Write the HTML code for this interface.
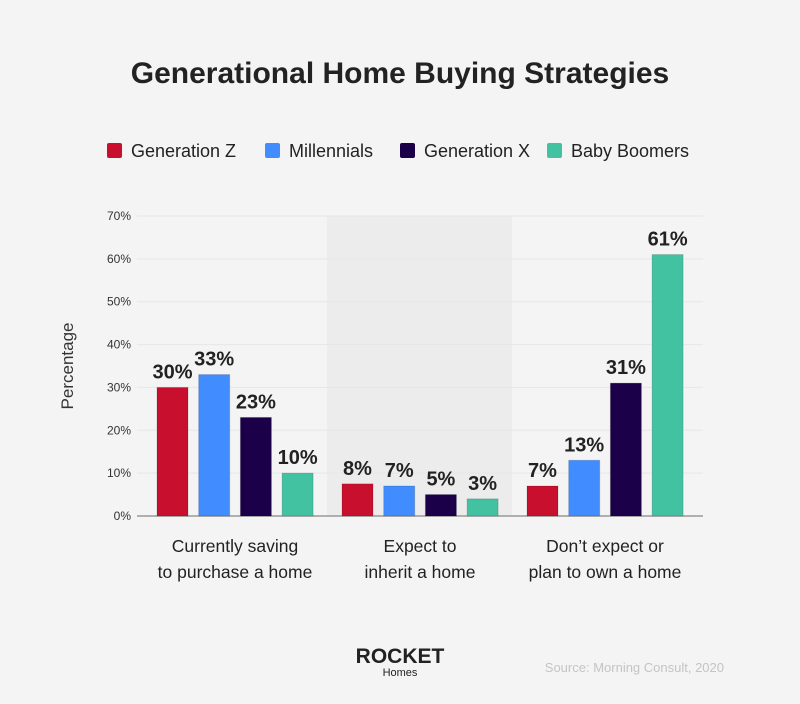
<!DOCTYPE html>
<html><head><meta charset="utf-8"><style>
body{margin:0;background:#f4f4f4;font-family:"Liberation Sans",sans-serif;}
#wrap{position:relative;width:800px;height:704px;overflow:hidden;background:#f4f4f4}
.t{position:absolute;white-space:nowrap}
</style></head><body>
<div id="wrap">
<div class="t" style="left:0;width:800px;text-align:center;top:57px;font-size:30px;font-weight:bold;color:#222">Generational Home Buying Strategies</div>
<svg id="c" width="800" height="704" style="position:absolute;left:0;top:0"></svg>
</div>
<script>
const categories=[["Currently saving","to purchase a home"],["Expect to","inherit a home"],["Don’t expect or","plan to own a home"]];
const seriesNames=["Generation Z","Millennials","Generation X","Baby Boomers"];
const genZ=[30,7.5,7];
const millennials=[33,7,13];
const genX=[23,5,31];
const boomers=[10,4,61];
const genZLabels=["30%","8%","7%"];
const millennialsLabels=["33%","7%","13%"];
const genXLabels=["23%","5%","31%"];
const boomersLabels=["10%","3%","61%"];
const yTicks=[0,10,20,30,40,50,60,70];
const colors=["#c8102e","#418cff","#1b0049","#43c2a2"];
const NS="http://www.w3.org/2000/svg",svg=document.getElementById('c');
function el(t,a,txt){const e=document.createElementNS(NS,t);for(const k in a)e.setAttribute(k,a[k]);if(txt!==undefined)e.textContent=txt;svg.appendChild(e);return e;}
const y0=516,pxPer=300/70;
const y=v=>y0-v*pxPer;
const groupX=g=>157+g*185;
const barX=(g,s)=>groupX(g)+s*41.7;
const bw=31;
let b=el('rect',{x:327,y:216,width:185,height:300,fill:'#ececec'});

yTicks.forEach(t=>{
 let l=el('line',{x1:137,x2:703,y1:y(t),y2:y(t),stroke:t===0?'#999':'#e6e6e6','stroke-width':t===0?1.5:1});
 
 let tx=el('text',{x:131,y:y(t)+4,'text-anchor':'end','font-size':12,fill:'#333'},t+'%');
 
});
let yt=el('text',{x:0,y:0,transform:'translate(73,366) rotate(-90)','text-anchor':'middle','font-size':17,fill:'#333'},'Percentage');

const series=[genZ,millennials,genX,boomers],labels=[genZLabels,millennialsLabels,genXLabels,boomersLabels];
series.forEach((vals,s)=>vals.forEach((v,g)=>{
 let r=el('rect',{x:barX(g,s),y:y(v),width:bw,height:y0-y(v),fill:colors[s],stroke:'rgba(0,0,0,0.15)','stroke-width':1});
 
 let tx=el('text',{x:barX(g,s)+bw/2,y:y(v)-9,'text-anchor':'middle','font-size':20,'font-weight':'bold',fill:'#222'},labels[s][g]);
 
}));
categories.forEach((c,g)=>c.forEach((line,i)=>{
 let tx=el('text',{x:groupX(g)+78,y:552+i*26,'text-anchor':'middle','font-size':17.5,fill:'#222'},line);
 
}));
const legX=[107,265,400,547];
seriesNames.forEach((n,i)=>{
 let r=el('rect',{x:legX[i],y:143,width:15,height:15,rx:2,fill:colors[i]});
 
 let tx=el('text',{x:legX[i]+24,y:157,'font-size':18,fill:'#222'},n);
 
});
let lg=el('text',{x:400,y:663,'text-anchor':'middle','font-size':21,'font-weight':'bold',fill:'#222'},'ROCKET');

let lh=el('text',{x:400,y:676,'text-anchor':'middle','font-size':11,fill:'#222'},'Homes');

let src=el('text',{x:724,y:672,'text-anchor':'end','font-size':13,fill:'#c4c4c4'},'Source: Morning Consult, 2020');

</script>
</body></html>
